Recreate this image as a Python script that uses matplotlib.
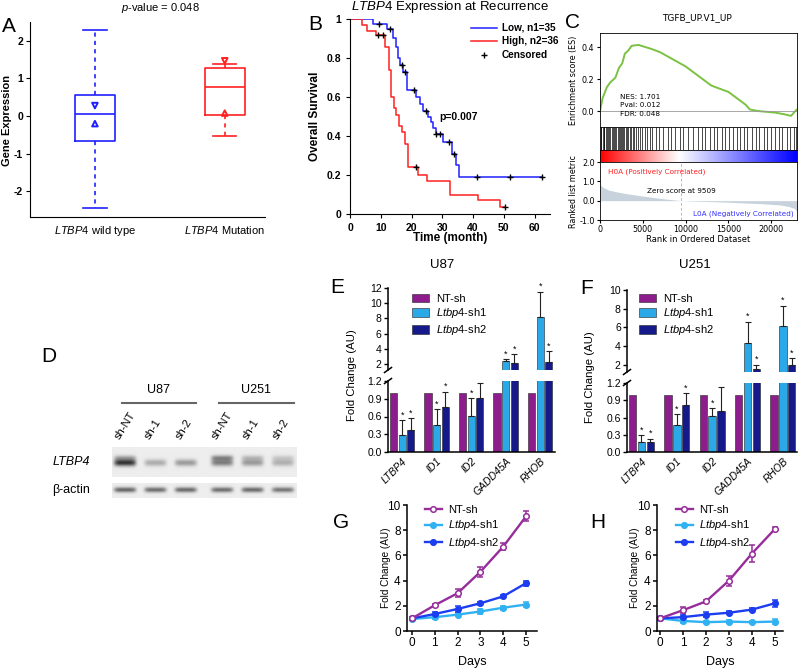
import matplotlib.pyplot as plt
import matplotlib as mpl
import numpy as np
from matplotlib.lines import Line2D
from matplotlib.patches import Patch
from matplotlib.colors import LinearSegmentedColormap

mpl.rcParams['font.family'] = ['Liberation Sans', 'DejaVu Sans']
mpl.rcParams['mathtext.fontset'] = 'custom'
mpl.rcParams['mathtext.rm'] = 'Liberation Sans'
mpl.rcParams['mathtext.it'] = 'Liberation Sans:italic'
mpl.rcParams['mathtext.bf'] = 'Liberation Sans:bold'
mpl.rcParams['axes.unicode_minus'] = False

# ---------------- data ----------------
# A: box plot of gene expression
a_labels = [r'$\it{LTBP4}$ wild type', r'$\it{LTBP4}$ Mutation']
a_whislo = [-2.45, -0.52]
a_q1 = [-0.65, 0.03]
a_med = [0.05, 0.77]
a_q3 = [0.55, 1.28]
a_whishi = [2.3, 1.38]
a_tri_down = [0.28, 1.47]
a_tri_up = [-0.2, 0.08]
a_colors = ['#2020ff', '#ff2020']

# B: Kaplan-Meier
low_t = [0, 7.6, 12.1, 14, 14.8, 15.5, 16.2, 17.3, 18.6, 21.6, 22.9, 23.8, 25.4, 26.2, 27, 27.8, 30.3, 33.3, 34.6, 35.5]
low_s = [1, .975, .95, .905, .855, .80, .766, .73, .634, .60, .566, .53, .50, .47, .44, .41, .37, .31, .25, .19]
low_end = 62.5
low_cens_t = [9.5, 13, 17, 18, 20.8, 24.6, 28.1, 29.4, 32.1, 33.8, 41.3, 52.1, 62.5]
low_cens_s = [.975, .95, .766, .73, .634, .53, .41, .41, .37, .31, .19, .19, .19]
high_t = [0, 4, 5.4, 8.4, 11.4, 12.6, 13.3, 14.2, 15.0, 15.8, 16.8, 17.8, 18.9, 22.2, 24.9, 32.4, 41.6, 48.6]
high_s = [1, .97, .94, .92, .855, .74, .60, .545, .51, .45, .42, .36, .24, .20, .17, .10, .07, .035]
high_end = 50.3
high_cens_t = [9, 10.6, 21.6, 50.3]
high_cens_s = [.92, .92, .24, .035]

# C: GSEA
es_rank = [0, 300, 800, 1200, 1800, 2200, 2600, 2900, 3300, 3700, 4500, 6000, 7000, 8000, 9000, 10000,
           11000, 12000, 13000, 14000, 15000, 16000, 17000, 17500, 18500, 19500, 20500, 21500, 22300, 22800, 23000]
es_val = [0.0, 0.08, 0.15, 0.18, 0.21, 0.27, 0.30, 0.36, 0.38, 0.41, 0.415, 0.39, 0.37, 0.34, 0.31, 0.28,
          0.24, 0.20, 0.16, 0.14, 0.12, 0.08, 0.04, 0.01, 0.0, -0.005, -0.01, -0.02, -0.03, 0.0, 0.01]
hit_rank = [60, 150, 300, 420, 500, 650, 800, 900, 1050, 1200, 1350, 1500, 1600, 1750, 1900, 2050, 2200,
            2300, 2450, 2600, 2700, 2850, 3000, 3150, 3300, 3500, 3650, 3800, 4000, 4200, 4400, 4700, 4900,
            5200, 5500, 5800, 6100, 6500, 6900, 7400, 7900, 8300, 8800, 9300, 9700, 10300, 10800, 11400,
            11900, 12300, 12800, 13300, 13700, 14200, 14600, 15100, 15500, 16000, 16400, 16800, 17200,
            17700, 18200, 18600, 19100, 19500, 20000, 20400, 20900, 21300, 21800, 22200, 22600, 22900]
metric_rank = [0, 300, 1000, 2000, 3000, 4000, 5000, 6000, 7000, 8000, 9509, 11000, 13000, 15000, 17000,
               19000, 21000, 22000, 22700, 23000]
metric_val = [0.85, 0.7, 0.55, 0.45, 0.37, 0.3, 0.24, 0.18, 0.12, 0.07, 0.0, -0.03, -0.05, -0.08, -0.12,
              -0.16, -0.22, -0.3, -0.4, -0.55]
zero_rank = 9509

# D: western blot
lanes = ['sh-NT', 'sh-1', 'sh-2', 'sh-NT', 'sh-1', 'sh-2']
cell_lines = ['U87', 'U251']
ltbp4_band = [0.85, 0.30, 0.38, 0.50, 0.38, 0.28]
ltbp4_upper = [0.30, 0.0, 0.0, 0.45, 0.22, 0.15]
actin_band = [0.62, 0.58, 0.60, 0.58, 0.60, 0.55]

# E/F: qPCR bars
genes = ['LTBP4', 'ID1', 'ID2', 'GADD45A', 'RHOB']
bar_names = ['NT-sh', r'$\it{Ltbp4}$-sh1', r'$\it{Ltbp4}$-sh2']
bar_colors = ['#8d1c8c', '#2ba8e8', '#15198a']
nt_vals = [1, 1, 1, 1, 1]
u87_sh1 = [0.28, 0.46, 0.61, 2.4, 8.2]
u87_sh1_err = [0.26, 0.26, 0.30, 0.2, 3.3]
u87_sh2 = [0.37, 0.76, 0.91, 2.1, 2.2]
u87_sh2_err = [0.20, 0.26, 0.26, 1.2, 1.5]
u87_star2 = [True, True, False, True, True]
u251_sh1 = [0.17, 0.47, 0.63, 4.3, 6.1]
u251_sh1_err = [0.12, 0.19, 0.13, 2.3, 2.2]
u251_sh2 = [0.17, 0.81, 0.72, 1.5, 2.0]
u251_sh2_err = [0.06, 0.21, 0.41, 0.5, 0.7]
u251_star2 = [True, True, False, True, True]

# G/H: growth curves
days = [0, 1, 2, 3, 4, 5]
line_names = ['NT-sh', r'$\it{Ltbp4}$-sh1', r'$\it{Ltbp4}$-sh2']
line_colors = ['#962d9a', '#30b2f2', '#1c3df0']
g_nt = [1.0, 2.05, 3.0, 4.7, 6.7, 9.1]
g_nt_err = [0.05, 0.1, 0.3, 0.4, 0.3, 0.4]
g_sh1 = [0.95, 1.1, 1.3, 1.55, 1.85, 2.1]
g_sh1_err = [0.1, 0.15, 0.1, 0.2, 0.15, 0.2]
g_sh2 = [1.0, 1.35, 1.75, 2.2, 2.75, 3.8]
g_sh2_err = [0.1, 0.15, 0.25, 0.1, 0.1, 0.2]
h_nt = [1.0, 1.65, 2.35, 4.0, 6.15, 8.1]
h_nt_err = [0.05, 0.25, 0.15, 0.4, 0.65, 0.15]
h_sh1 = [1.0, 0.8, 0.7, 0.75, 0.7, 0.75]
h_sh1_err = [0.1, 0.15, 0.1, 0.1, 0.1, 0.2]
h_sh2 = [1.0, 1.1, 1.3, 1.45, 1.7, 2.2]
h_sh2_err = [0.1, 0.2, 0.2, 0.1, 0.1, 0.3]

W, H = 800, 669
fig = plt.figure(figsize=(8, 6.69), dpi=100)


def axes_px(left, top, right, bottom):
    return fig.add_axes([left / W, 1 - bottom / H, (right - left) / W, (bottom - top) / H])


def ftext(x, y, s, **kw):
    return fig.text(x / W, 1 - y / H, s, **kw)


def letter(x, y, s):
    ftext(x, y, s, fontsize=15, ha='center', va='center')


# ---------------- A ----------------
ax = axes_px(30, 22, 265, 217)
stats = [dict(med=a_med[i], q1=a_q1[i], q3=a_q3[i], whislo=a_whislo[i], whishi=a_whishi[i], fliers=[])
         for i in range(2)]
bp = ax.bxp(stats, positions=[1, 2], widths=0.31, capwidths=0.18, showfliers=False, manage_ticks=False)
for i, c in enumerate(a_colors):
    bp['boxes'][i].set(color=c, lw=1.2)
    bp['medians'][i].set(color=c, lw=1.2)
    for w in bp['whiskers'][2 * i:2 * i + 2]:
        w.set(color=c, lw=1.2, linestyle=(0, (2.5, 2.5)))
    for cp in bp['caps'][2 * i:2 * i + 2]:
        cp.set(color=c, lw=1.2)
ax.scatter([1, 2], a_tri_down, marker='v', s=16, facecolors='none', edgecolors=a_colors, linewidths=1.4, zorder=3)
ax.scatter([1, 2], a_tri_up, marker='^', s=16, facecolors='none', edgecolors=a_colors, linewidths=1.4, zorder=3)
ax.set_xlim(0.5, 2.31)
ax.set_ylim(-2.68, 2.5)
ax.set_xticks([1, 2])
ax.set_xticklabels(a_labels, fontsize=8)
ax.set_yticks([-2, -1, 0, 1, 2])
ax.tick_params(axis='y', labelsize=7.5, length=3, pad=2)
ax.tick_params(axis='x', length=0, pad=5)
for t in ax.get_yticklabels():
    t.set_fontweight('bold')
ax.spines[['top', 'right']].set_visible(False)
ftext(7, 120, 'Gene Expression', rotation=90, fontsize=8, fontweight='bold', ha='center', va='center')
ftext(160, 8, r'$\it{p}$-value = 0.048', fontsize=8, ha='center', va='center')
letter(9, 26, 'A')

# ---------------- B ----------------
ax = axes_px(350, 19, 550, 214)
ax.step(low_t + [low_end], low_s + [low_s[-1]], where='post', color='#2020ff', lw=1.1)
ax.step(high_t + [high_end], high_s + [high_s[-1]], where='post', color='#ff2020', lw=1.1)
ax.plot(low_cens_t, low_cens_s, '+', color='k', ms=4, mew=1, clip_on=False)
ax.plot(high_cens_t, high_cens_s, '+', color='k', ms=4, mew=1, clip_on=False)
ax.set_xlim(0, 65)
ax.set_ylim(0, 1)
ax.set_xticks(range(0, 61, 10))
ax.set_yticks([0, 0.2, 0.4, 0.6, 0.8, 1])
ax.set_yticklabels(['0', '0.2', '0.4', '0.6', '0.8', '1'])
ax.tick_params(labelsize=7.5, length=3)
for t in ax.get_xticklabels() + ax.get_yticklabels():
    t.set_fontweight('bold')
ax.spines[['top', 'right']].set_visible(False)
ax.set_ylabel('Overall Survival', fontsize=8.5, fontweight='bold', labelpad=4)
ax.set_xlabel('Time (month)', fontsize=8.5, fontweight='bold', labelpad=-1)
ax.text(29, 0.5, 'p=0.007', fontsize=7.5, fontweight='bold', va='center')
hb = [Line2D([], [], color='#2020ff', lw=1.1), Line2D([], [], color='#ff2020', lw=1.1),
      Line2D([], [], color='k', marker='+', ls='none', ms=4, mew=1)]
ax.legend(hb, ['Low, n1=35', 'High, n2=36', 'Censored'], loc='upper left',
          bbox_to_anchor=(466 / W, 1 - 18 / H), bbox_transform=fig.transFigure, frameon=False,
          prop={'weight': 'bold', 'size': 7.2}, handlelength=2.6, labelspacing=0.35,
          borderpad=0, handletextpad=0.5)
ftext(450, 7, r'$\it{LTBP4}$ Expression at Recurrence', fontsize=9.5, ha='center', va='center')
letter(315, 25, 'B')

# ---------------- C ----------------
gfont = ['DejaVu Sans']
xmax = 23000
ax = axes_px(600, 33, 797, 127)
ax.plot(es_rank, es_val, color='#7cc242', lw=1.4)
ax.axhline(0, color='#999999', lw=0.6)
ax.set_xlim(0, xmax)
ax.set_ylim(-0.1, 0.49)
ax.set_xticks([])
ax.set_yticks([0, 0.2, 0.4])
ax.set_yticklabels(['0.0', '0.2', '0.4'], family=gfont, fontsize=5.8)
ax.tick_params(length=2, pad=2)
ax.set_ylabel('Enrichment score (ES)', family=gfont, fontsize=5.8, labelpad=3)
for sp in ax.spines.values():
    sp.set_linewidth(0.6)
ax.text(2300, 0.09, 'NES: 1.701', family=gfont, fontsize=5.2, va='center')
ax.text(2300, 0.035, 'Pval: 0.012', family=gfont, fontsize=5.2, va='center')
ax.text(2300, -0.02, 'FDR: 0.048', family=gfont, fontsize=5.2, va='center')

ax = axes_px(600, 127, 797, 150)
ax.vlines(hit_rank, 0, 1, color='black', lw=0.5)
ax.set_xlim(0, xmax)
ax.set_ylim(0, 1)
ax.set_xticks([])
ax.set_yticks([])
for sp in ax.spines.values():
    sp.set_linewidth(0.6)

ax = axes_px(600, 150, 797, 162)
rwb = LinearSegmentedColormap.from_list('rwb', [(0, '#ff0000'), (0.4, '#ffffff'), (1, '#0000ff')])
ax.imshow(np.linspace(0, 1, 256)[None, :], cmap=rwb, aspect='auto', extent=(0, xmax, 0, 1))
ax.set_xlim(0, xmax)
ax.set_xticks([])
ax.set_yticks([])
for sp in ax.spines.values():
    sp.set_linewidth(0.6)

ax = axes_px(600, 162, 797, 220)
ax.fill_between(metric_rank, 0, metric_val, color='#c7d2dc', lw=0)
ax.axvline(zero_rank, color='#bbbbbb', lw=0.7, ls=(0, (3, 2)))
ax.set_xlim(0, xmax)
ax.set_ylim(-1, 2)
ax.set_yticks([-1, 0, 1, 2])
ax.set_yticklabels(['-1.0', '0.0', '1.0', '2.0'], family=gfont, fontsize=5.8)
ax.set_xticks([0, 5000, 10000, 15000, 20000])
ax.set_xticklabels(['0', '5000', '10000', '15000', '20000'], family=gfont, fontsize=5.8)
ax.tick_params(length=2, pad=1.5)
ax.set_xlabel('Rank in Ordered Dataset', family=gfont, fontsize=6, labelpad=1)
ax.set_ylabel('Ranked list metric', family=gfont, fontsize=5.8, labelpad=1)
for sp in ax.spines.values():
    sp.set_linewidth(0.6)
ax.text(900, 1.5, 'H0A (Positively Correlated)', color='#ff2020', family=gfont, fontsize=5.2, va='center')
ax.text(zero_rank, 0.5, 'Zero score at 9509', family=gfont, fontsize=5.2, va='center', ha='center')
ax.text(22600, -0.68, 'L0A (Negatively Correlated)', color='#3030ff', family=gfont, fontsize=5.2,
        va='center', ha='right')
ftext(697, 18, 'TGFB_UP.V1_UP', family=gfont, fontsize=6.5, ha='center', va='center')
letter(572, 23, 'C')

# ---------------- D ----------------
lane_pos = np.array([i + 0.2 * (i >= 3) for i in range(len(lanes))])
ax = axes_px(112, 380, 297, 500)
x0, x1 = -0.42, 5.65
ax.set_xlim(x0, x1)
ax.set_ylim(500, 380)
ax.axis('off')
xs = np.linspace(x0, x1, 260)


def blot_strip(y0, y1, yc, hh, main, upper):
    ys = np.arange(y0, y1 + 1, 0.5)
    dark = np.zeros((len(ys), len(xs)))
    for p, m, u in zip(lane_pos, main, upper):
        prof = np.exp(-((xs - p) / 0.36) ** 6)
        dark += m * np.outer(np.exp(-((ys - yc) / hh) ** 2), prof)
        dark += u * np.outer(np.exp(-((ys - yc + 5) / (hh * 0.8)) ** 2), prof)
    img = 0.93 - 0.85 * np.clip(dark, 0, 1)
    ax.imshow(img, cmap='gray', vmin=0, vmax=1, aspect='auto', extent=(x0, x1, y1, y0), zorder=1)


blot_strip(447, 477, 463, 3.5, ltbp4_band, ltbp4_upper)
blot_strip(483, 498, 490, 2.8, actin_band, [0] * 6)
ax.set_xlim(x0, x1)
ax.set_ylim(500, 380)
for p, name in zip(lane_pos, lanes):
    ax.text(p - 0.12, 441, name, rotation=58, rotation_mode='anchor', ha='left', va='bottom', fontsize=8)
for g, name in enumerate(cell_lines):
    grp = lane_pos[3 * g:3 * g + 3]
    ax.plot([grp[0] - 0.1, grp[-1] + 0.35], [403, 403], color='#666666', lw=1.5, clip_on=False)
    ax.text(grp[1] + 0.1, 390, name, ha='center', va='center', fontsize=9)
ax.text(-1.15, 462, 'LTBP4', ha='right', va='center', fontsize=9, fontstyle='italic')
ax.text(-1.15, 490, 'β-actin', ha='right', va='center', fontsize=9)
letter(49, 357, 'D')


# ---------------- E / F ----------------
def bar_panel(left, right, top, brk_top, brk_bot, bottom, xlim, top_ylim, top_ticks,
              sh1, sh1_err, sh2, sh2_err, star2, title, title_x, label_x, leg_x, leg_y):
    ax_t = axes_px(left, top, right, brk_top)
    ax_b = axes_px(left, brk_bot, right, bottom)
    x = np.arange(len(genes))
    offs = [-0.25, 0, 0.25]
    vals = [nt_vals, sh1, sh2]
    errs = [None, sh1_err, sh2_err]
    stars = [None, [True] * len(genes), star2]
    for ax in (ax_t, ax_b):
        for k in range(3):
            ax.bar(x + offs[k], vals[k], width=0.21, color=bar_colors[k], edgecolor='#222222', lw=0.4)
            if errs[k] is not None:
                v = np.array(vals[k], dtype=float)
                e = np.array(errs[k], dtype=float)
                keep = np.ones(len(genes), bool) if ax is ax_b else (v + e > top_ylim[0])
                ax.errorbar((x + offs[k])[keep], v[keep], yerr=[np.zeros(keep.sum()), e[keep]], fmt='none',
                            ecolor='#222222', elinewidth=0.8, capsize=2.2, capthick=0.8)
        ax.set_xlim(*xlim)
    for k in (1, 2):
        for i in range(len(genes)):
            if stars[k][i]:
                y = vals[k][i] + errs[k][i]
                tgt = ax_t if y > top_ylim[0] else ax_b
                tgt.annotate('*', xy=(x[i] + offs[k], y), xytext=(0, 0.5), textcoords='offset points',
                             ha='center', va='bottom', fontsize=6.5)
    ax_t.set_ylim(*top_ylim)
    ax_t.set_yticks(top_ticks)
    ax_t.set_xticks([])
    ax_t.spines[['top', 'right', 'bottom']].set_visible(False)
    ax_b.set_ylim(0, 1.2)
    ax_b.set_yticks([0, 0.3, 0.6, 0.9, 1.2])
    ax_b.set_yticklabels(['0.0', '0.3', '0.6', '0.9', '1.2'])
    ax_b.spines[['top', 'right']].set_visible(False)
    ax_b.set_xticks(x)
    ax_b.set_xticklabels(genes, rotation=45, ha='right', rotation_mode='anchor', fontstyle='italic', fontsize=7.5)
    ax_b.tick_params(axis='x', length=0, pad=3)
    for ax in (ax_t, ax_b):
        ax.tick_params(axis='y', labelsize=7.5, length=3, width=1, pad=1.5)
        for sp in ax.spines.values():
            sp.set_linewidth(1.1)
    # break marks on the y axis
    wpx = right - left
    for ax, yy, hpx in ((ax_t, 0, brk_top - top), (ax_b, 1, bottom - brk_bot)):
        dx, dy = 3.5 / wpx, 2.5 / hpx
        ax.plot([-dx, dx], [yy - dy, yy + dy], transform=ax.transAxes, color='k', lw=1.1, clip_on=False)
    hs = [Patch(facecolor=c, edgecolor='#222222', lw=0.4) for c in bar_colors]
    ax_t.legend(hs, bar_names, loc='upper left', bbox_to_anchor=(leg_x / W, 1 - leg_y / H),
                bbox_transform=fig.transFigure, frameon=False, fontsize=8, handlelength=1.6,
                handleheight=0.8, labelspacing=0.25, borderpad=0, handletextpad=0.6)
    ftext(label_x, (brk_top + brk_bot) / 2, 'Fold Change (AU)', rotation=90, fontsize=8.2,
          ha='center', va='center')
    ftext(title_x, 265, title, fontsize=9.5, ha='center', va='center')


bar_panel(388, 555, 288, 370, 381, 452, (-0.41, 4.43), (1.2, 12), [2, 4, 6, 8, 10, 12],
          u87_sh1, u87_sh1_err, u87_sh2, u87_sh2_err, u87_star2, 'U87', 442, 352, 406, 288)
bar_panel(627, 797, 290, 372, 383, 452, (-0.41, 4.4), (1.2, 10), [2, 4, 6, 8, 10],
          u251_sh1, u251_sh1_err, u251_sh2, u251_sh2_err, u251_star2, 'U251', 695, 590, 633, 288)
letter(337, 287, 'E')
letter(587, 288, 'F')


# ---------------- G / H ----------------
def growth_panel(left, right, xlim, nt, nt_err, sh1, sh1_err, sh2, sh2_err, leg_x, label_x):
    ax = axes_px(left, 505, right, 631)
    series = [(sh1, sh1_err), (sh2, sh2_err), (nt, nt_err)]
    cols = [line_colors[1], line_colors[2], line_colors[0]]
    for (v, e), c in zip(series, cols):
        face = 'white' if c == line_colors[0] else c
        ax.errorbar(days, v, yerr=e, color=c, marker='o', ms=4, mfc=face, mec=c, mew=1.1, lw=1.7,
                    capsize=2.5, capthick=1.1, elinewidth=1.1, clip_on=False)
    ax.set_xlim(*xlim)
    ax.set_ylim(0, 10)
    ax.set_xticks(days)
    ax.set_yticks([0, 2, 4, 6, 8, 10])
    ax.tick_params(labelsize=8.5, length=3, width=1.1, pad=1.5)
    ax.spines[['top', 'right']].set_visible(False)
    for sp in ax.spines.values():
        sp.set_linewidth(1.1)
    ax.set_xlabel('Days', fontsize=9, labelpad=5)
    hs = [Line2D([], [], color=c, marker='o', ms=4, mfc=('white' if c == line_colors[0] else c), mec=c,
                 mew=1.1, lw=1.7) for c in line_colors]
    ax.legend(hs, line_names, loc='upper left', bbox_to_anchor=(leg_x / W, 1 - 499 / H),
              bbox_transform=fig.transFigure, frameon=False, fontsize=8, handlelength=1.6,
              labelspacing=0.35, borderpad=0, handletextpad=0.5)
    ftext(label_x, 568, 'Fold Change (AU)', rotation=90, fontsize=7.2, ha='center', va='center')


growth_panel(407, 537, (-0.22, 5.48), g_nt, g_nt_err, g_sh1, g_sh1_err, g_sh2, g_sh2_err, 419, 386)
growth_panel(657, 783, (-0.13, 5.35), h_nt, h_nt_err, h_sh1, h_sh1_err, h_sh2, h_sh2_err, 670, 635)
letter(341, 522, 'G')
letter(598, 522, 'H')

fig.savefig('out.png', dpi=100)
